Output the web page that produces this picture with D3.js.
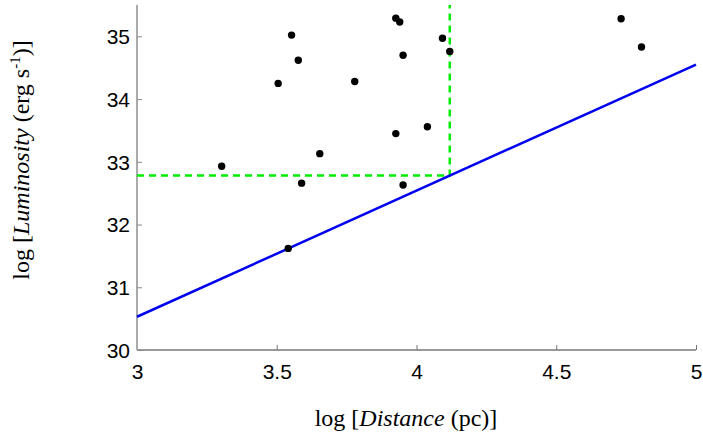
<!doctype html>
<html lang="en">
<head>
<meta charset="UTF-8">
<title>Luminosity vs Distance</title>
<script src="https://d3js.org/d3.v7.min.js"></script>
<style>
	body { margin: 0; background: #fff; }
	.tick text { font-family: Arial, "Liberation Sans", sans-serif; font-size: 21px; fill: #000; }
	.ttl { font-family: "Times New Roman", "Liberation Serif", serif; font-size: 24px; fill: #000; }
</style>
</head>
<body>
<div id="container"></div>
<script>
	var width = 703, height = 437;
	var margin = {left: 137, top: 5, right: 7, bottom: 87};
	var g_width = width - margin.left - margin.right;
	var g_height = height - margin.top - margin.bottom;

	// source points: log distance / log luminosity
	var logDist = [3.303, 3.541, 3.589, 3.654, 3.505, 3.553, 3.577, 3.779, 3.926, 3.940,
		3.952, 3.926, 4.039, 3.952, 4.093, 4.119, 4.732, 4.805];
	var logLum = [32.93, 31.62, 32.66, 33.13, 34.25, 35.02, 34.62, 34.28, 35.29, 35.23,
		34.70, 33.45, 33.56, 32.63, 34.97, 34.76, 35.28, 34.83];
	// sensitivity limit line
	var limitDist = [3, 5];
	var limitLum = [30.53, 34.55];
	// completeness cut (dashed)
	var cutDist = [3, 4.119, 4.119];
	var cutLum = [32.78, 32.78, 35.5];

	var xTicks = [3, 3.5, 4, 4.5, 5];
	var yTicks = [30, 31, 32, 33, 34, 35];

	var x = d3.scaleLinear().domain([3, 5]).range([0, g_width]);
	var y = d3.scaleLinear().domain([30, 35.5]).range([g_height, 0]);

	var svg = d3.select("#container").append("svg")
		.attr("width", width).attr("height", height);
	var g = svg.append("g")
		.attr("transform", "translate(" + margin.left + "," + margin.top + ")");

	var xAxis = d3.axisBottom(x).tickValues(xTicks).tickSize(-5).tickPadding(14)
		.tickFormat(d3.format("~g"));
	var yAxis = d3.axisLeft(y).tickValues(yTicks).tickSize(-5).tickPadding(7)
		.tickFormat(d3.format("d"));

	var gx = g.append("g").attr("transform", "translate(0," + g_height + ")").call(xAxis);
	gx.select(".domain").attr("stroke", "#777").attr("stroke-width", 1.5).attr("d", "M0,0H" + g_width);
	gx.selectAll(".tick line").attr("stroke", "#777");

	var gy = g.append("g").call(yAxis);
	gy.select(".domain").attr("stroke", "#aaa").attr("stroke-width", 2).attr("d", "M0," + g_height + "V0");
	gy.selectAll(".tick line").attr("stroke", "#888");
	gy.selectAll(".tick text").attr("dy", "0.35em");

	var line = d3.line().x(function (d) { return x(d[0]); }).y(function (d) { return y(d[1]); });

	g.append("path")
		.attr("d", line(d3.zip(cutDist, cutLum)))
		.attr("fill", "none").attr("stroke", "#00ee00")
		.attr("stroke-width", 2.5).attr("stroke-dasharray", "7,5");

	g.append("path")
		.attr("d", line(d3.zip(limitDist, limitLum)))
		.attr("fill", "none").attr("stroke", "#0000ee").attr("stroke-width", 2.5);

	g.selectAll("circle.pt").data(d3.zip(logDist, logLum)).enter()
		.append("circle").attr("class", "pt")
		.attr("cx", function (d) { return x(d[0]); })
		.attr("cy", function (d) { return y(d[1]); })
		.attr("r", 3.7).attr("fill", "#000");

	// axis titles
	var xt = svg.append("text").attr("class", "ttl")
		.attr("x", 406).attr("y", 426).attr("text-anchor", "middle");
	xt.append("tspan").text("log [");
	xt.append("tspan").attr("font-style", "italic").text("Distance");
	xt.append("tspan").text(" (pc)]");

	var yt = svg.append("text").attr("class", "ttl")
		.attr("transform", "translate(29,160) rotate(-90)").attr("text-anchor", "middle");
	yt.append("tspan").text("log [");
	yt.append("tspan").attr("font-style", "italic").text("Luminosity");
	yt.append("tspan").text(" (erg s");
	yt.append("tspan").attr("font-size", "15px").attr("dy", "-9").text("-1");
	yt.append("tspan").attr("dy", "9").text(")]");
</script>
</body>
</html>
